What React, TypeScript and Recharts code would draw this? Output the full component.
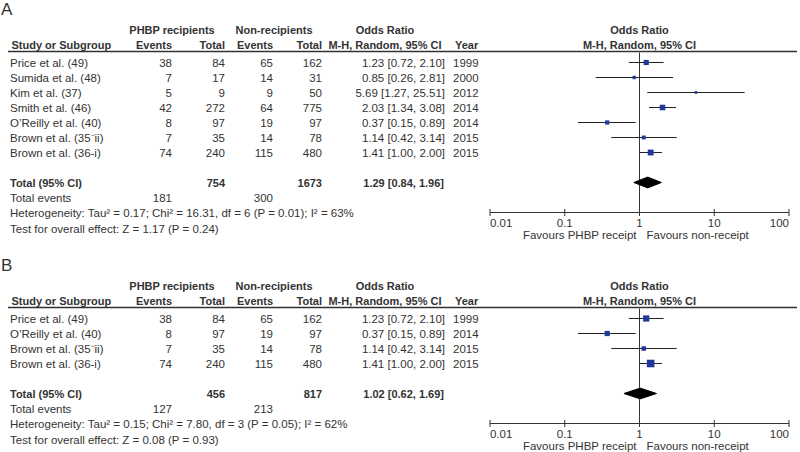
import React from 'react';
import { ScatterChart, Scatter, XAxis, YAxis, ErrorBar, ReferenceLine } from 'recharts';

const FONT = '"Liberation Sans", Arial, sans-serif';
const INK = '#333';
const BLUE = '#22399c';

// panel A - all studies
const studiesA = ['Price et al. (49)', 'Sumida et al. (48)', 'Kim et al. (37)', 'Smith et al. (46)', 'O\u2019Reilly et al. (40)', 'Brown et al. (35\u207Bii)', 'Brown et al. (36-i)'];
const phbpEventsA = [38, 7, 5, 42, 8, 7, 74];
const phbpTotalA = [84, 17, 9, 272, 97, 35, 240];
const nonEventsA = [65, 14, 9, 64, 19, 14, 115];
const nonTotalA = [162, 31, 50, 775, 97, 78, 480];
const oddsA = [1.23, 0.85, 5.69, 2.03, 0.37, 1.14, 1.41];
const lowA = [0.72, 0.26, 1.27, 1.34, 0.15, 0.42, 1.0];
const highA = [2.1, 2.81, 25.51, 3.08, 0.89, 3.14, 2.0];
const yearsA = [1999, 2000, 2012, 2014, 2014, 2015, 2015];
const weightsA = [18.5, 8, 5, 21.5, 12.5, 10.5, 24];
const pooledA = [1.29, 0.84, 1.96];
const totalsA = [754, 1673];
const totalEventsA = [181, 300];
const hetA = 'Heterogeneity: Tau\u00B2 = 0.17; Chi\u00B2 = 16.31, df = 6 (P = 0.01); I\u00B2 = 63%';
const testA = 'Test for overall effect: Z = 1.17 (P = 0.24)';

// panel B - subset
const studiesB = ['Price et al. (49)', 'O\u2019Reilly et al. (40)', 'Brown et al. (35\u207Bii)', 'Brown et al. (36-i)'];
const phbpEventsB = [38, 8, 7, 74];
const phbpTotalB = [84, 97, 35, 240];
const nonEventsB = [65, 19, 14, 115];
const nonTotalB = [162, 97, 78, 480];
const oddsB = [1.23, 0.37, 1.14, 1.41];
const lowB = [0.72, 0.15, 0.42, 1.0];
const highB = [2.1, 0.89, 3.14, 2.0];
const yearsB = [1999, 2014, 2015, 2015];
const weightsB = [27, 19, 14, 40];
const pooledB = [1.02, 0.62, 1.69];
const totalsB = [456, 817];
const totalEventsB = [127, 213];
const hetB = 'Heterogeneity: Tau\u00B2 = 0.15; Chi\u00B2 = 7.80, df = 3 (P = 0.05); I\u00B2 = 62%';
const testB = 'Test for overall effect: Z = 0.08 (P = 0.93)';

const axisTicks = [0.01, 0.1, 1, 10, 100];

const ROW0 = 62.5;
const ROW_H = 15;
const FOOT_H = 15.4;
const PLOT_TOP = 52.5;
const PLOT_LEFT = 490;
const PLOT_RIGHT = 789;
const AXIS_H = 34;

const fmt = (v: number) => v.toFixed(2);
const ciText = (o: number, l: number, h: number) => `${fmt(o)} [${fmt(l)}, ${fmt(h)}]`;

const T = ({ x, y, anchor = 'start', bold = false, size, children }: any) => (
  <text
    x={x}
    y={y}
    textAnchor={anchor}
    dominantBaseline="central"
    fontWeight={bold ? 'bold' : 'normal'}
    fontSize={size ?? (bold ? 11 : 11.5)}
    fill={INK}
    fontFamily={FONT}
  >
    {children}
  </text>
);

const LogTick = (props: any) => {
  const { x, y, payload, index } = props;
  const anchor = index === 0 ? 'start' : index === axisTicks.length - 1 ? 'end' : 'middle';
  return (
    <g>
      <line x1={x} x2={x} y1={y - 3.5} y2={y + 3.5} stroke={INK} />
      <text x={x} y={y + 10} textAnchor={anchor} dominantBaseline="central" fontSize={11.5} fill={INK} fontFamily={FONT}>
        {payload.value}
      </text>
    </g>
  );
};

interface PanelProps {
  tag: string;
  top: number;
  studies: string[];
  ev1: number[];
  n1: number[];
  ev2: number[];
  n2: number[];
  odds: number[];
  low: number[];
  high: number[];
  years: number[];
  weights: number[];
  pooled: number[];
  totals: number[];
  totalEvents: number[];
  het: string;
  test: string;
}

const Panel = (p: PanelProps) => {
  const n = p.studies.length;
  const plotH = ROW_H * (n + 3) + (ROW0 - PLOT_TOP);
  const height = PLOT_TOP + plotH + AXIS_H;
  const axisY = PLOT_TOP + plotH;
  const rowY = (i: number) => ROW0 + ROW_H * i;
  const totalY = rowY(n + 1);
  const midX = (PLOT_LEFT + PLOT_RIGHT) / 2;

  const points = p.odds.map((o, i) => ({
    x: o,
    y: i,
    w: p.weights[i],
    err: [o - p.low[i], p.high[i] - o],
  }));
  const [po, pl, ph] = p.pooled;
  const diamond = [
    { x: pl, y: n + 1 },
    { x: po, y: n + 1 - 0.36 },
    { x: ph, y: n + 1 },
    { x: po, y: n + 1 + 0.36 },
  ];

  return (
    <div style={{ position: 'absolute', left: 0, top: p.top, width: 800, height }}>
      <ScatterChart
        width={800}
        height={height}
        margin={{ top: PLOT_TOP, right: 800 - PLOT_RIGHT, bottom: 0, left: PLOT_LEFT }}
      >
        <XAxis
          type="number"
          dataKey="x"
          scale="log"
          domain={[0.01, 100]}
          ticks={axisTicks}
          allowDataOverflow
          interval={0}
          tickSize={0}
          tickMargin={0}
          tickLine={false}
          axisLine={{ stroke: INK }}
          tick={<LogTick />}
          height={AXIS_H}
        />
        <YAxis
          type="number"
          dataKey="y"
          domain={[-(ROW0 - PLOT_TOP) / ROW_H, n + 3]}
          reversed
          hide
        />
        <ReferenceLine x={1} stroke={INK} />
        <Scatter
          data={points}
          isAnimationActive={false}
          shape={(s: any) => {
            const side = 1.2 * Math.sqrt(s.payload.w);
            return <rect x={s.cx - side / 2} y={s.cy - side / 2} width={side} height={side} fill={BLUE} />;
          }}
        >
          <ErrorBar dataKey="err" direction="x" width={0} stroke="#222" strokeWidth={1} />
        </Scatter>
        <Scatter
          data={diamond}
          isAnimationActive={false}
          shape={() => <g />}
          line={(l: any) => (
            <polygon points={l.points.map((q: any) => `${q.x},${q.y}`).join(' ')} fill="#000" stroke="#000" />
          )}
        />
      </ScatterChart>

      <svg width={800} height={height} style={{ position: 'absolute', left: 0, top: 0, pointerEvents: 'none' }}>
        <T x={1} y={9} size={17}>{p.tag}</T>

        <T x={172} y={30} anchor="middle" bold>PHBP recipients</T>
        <T x={274} y={30} anchor="middle" bold>Non-recipients</T>
        <T x={385} y={30} anchor="middle" bold>Odds Ratio</T>
        <T x={midX} y={30} anchor="middle" bold>Odds Ratio</T>

        <T x={11.5} y={44.5} bold>Study or Subgroup</T>
        <T x={172} y={44.5} anchor="end" bold>Events</T>
        <T x={225} y={44.5} anchor="end" bold>Total</T>
        <T x={273} y={44.5} anchor="end" bold>Events</T>
        <T x={322} y={44.5} anchor="end" bold>Total</T>
        <T x={385} y={44.5} anchor="middle" bold>M-H, Random, 95% CI</T>
        <T x={455} y={44.5} bold>Year</T>
        <T x={midX} y={44.5} anchor="middle" bold>M-H, Random, 95% CI</T>
        <line x1={8} x2={797} y1={51.5} y2={51.5} stroke={INK} strokeWidth={1.5} />

        {p.studies.map((s, i) => (
          <g key={s}>
            <T x={10} y={rowY(i)}>{s}</T>
            <T x={172} y={rowY(i)} anchor="end">{p.ev1[i]}</T>
            <T x={225} y={rowY(i)} anchor="end">{p.n1[i]}</T>
            <T x={273} y={rowY(i)} anchor="end">{p.ev2[i]}</T>
            <T x={322} y={rowY(i)} anchor="end">{p.n2[i]}</T>
            <T x={445} y={rowY(i)} anchor="end">{ciText(p.odds[i], p.low[i], p.high[i])}</T>
            <T x={453} y={rowY(i)}>{p.years[i]}</T>
          </g>
        ))}

        <T x={10} y={totalY} bold>Total (95% CI)</T>
        <T x={225} y={totalY} anchor="end" bold>{p.totals[0]}</T>
        <T x={322} y={totalY} anchor="end" bold>{p.totals[1]}</T>
        <T x={444} y={totalY} anchor="end" bold>{ciText(po, pl, ph)}</T>

        <T x={10} y={totalY + FOOT_H}>Total events</T>
        <T x={172} y={totalY + FOOT_H} anchor="end">{p.totalEvents[0]}</T>
        <T x={273} y={totalY + FOOT_H} anchor="end">{p.totalEvents[1]}</T>
        <T x={10} y={totalY + FOOT_H * 2}>{p.het}</T>
        <T x={10} y={totalY + FOOT_H * 3}>{p.test}</T>

        <T x={midX - 3} y={axisY + 22.5} anchor="end">Favours PHBP receipt</T>
        <T x={midX + 7} y={axisY + 22.5}>Favours non-receipt</T>
      </svg>
    </div>
  );
};

export default function App() {
  return (
    <div style={{ position: 'absolute', left: 0, top: 0, width: 800, height: 452, overflow: 'hidden', background: '#fff' }}>
      <Panel
        tag="A"
        top={0}
        studies={studiesA}
        ev1={phbpEventsA}
        n1={phbpTotalA}
        ev2={nonEventsA}
        n2={nonTotalA}
        odds={oddsA}
        low={lowA}
        high={highA}
        years={yearsA}
        weights={weightsA}
        pooled={pooledA}
        totals={totalsA}
        totalEvents={totalEventsA}
        het={hetA}
        test={testA}
      />
      <Panel
        tag="B"
        top={256}
        studies={studiesB}
        ev1={phbpEventsB}
        n1={phbpTotalB}
        ev2={nonEventsB}
        n2={nonTotalB}
        odds={oddsB}
        low={lowB}
        high={highB}
        years={yearsB}
        weights={weightsB}
        pooled={pooledB}
        totals={totalsB}
        totalEvents={totalEventsB}
        het={hetB}
        test={testB}
      />
    </div>
  );
}
